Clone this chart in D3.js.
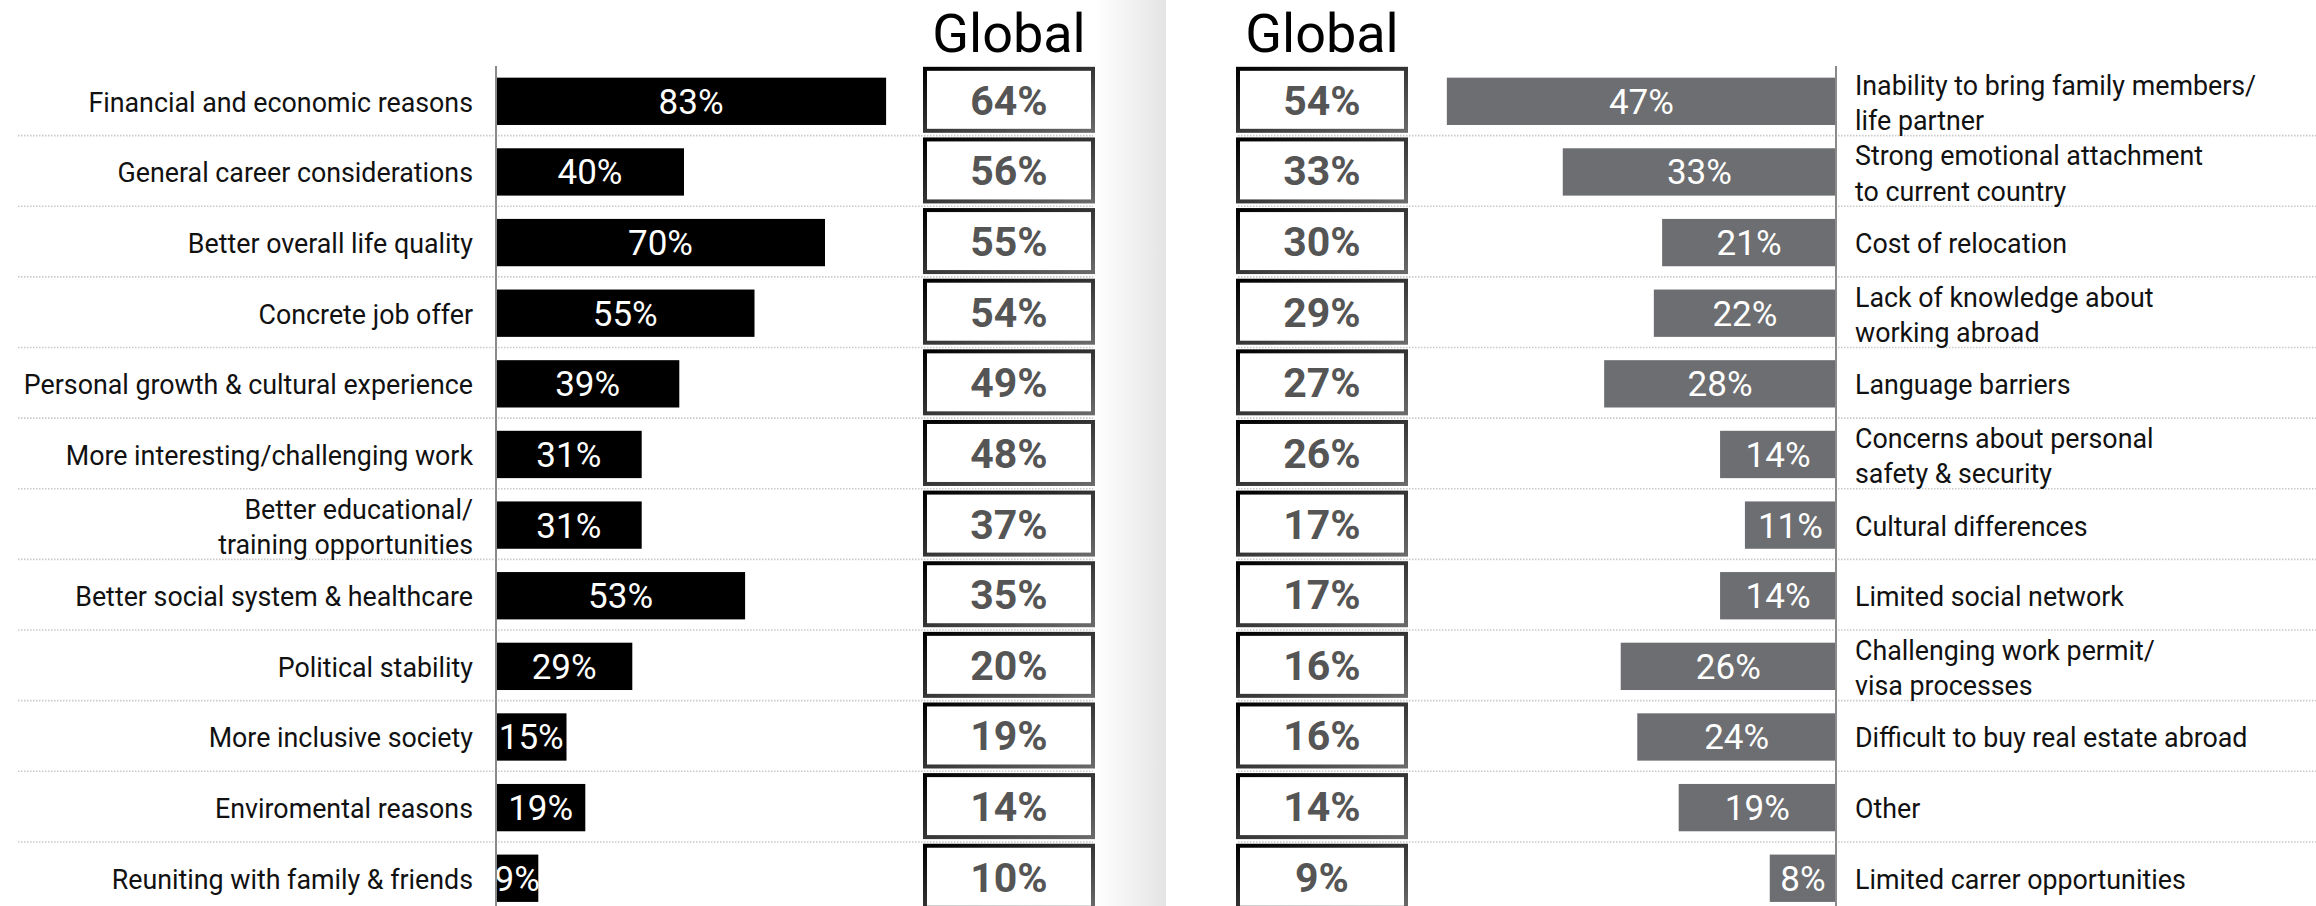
<!DOCTYPE html>
<html>
<head>
<meta charset="utf-8">
<script src="https://cdn.jsdelivr.net/npm/d3@7"></script>
<style>
  html, body { margin: 0; padding: 0; background: #fff; }
  svg { display: block; font-family: Roboto, "Noto Sans", sans-serif; }
</style>
</head>
<body>
<svg width="2316" height="906"></svg>
<script>
// left panel: reasons to move abroad
const leftLabels = [
  "Financial and economic reasons",
  "General career considerations",
  "Better overall life quality",
  "Concrete job offer",
  "Personal growth & cultural experience",
  "More interesting/challenging work",
  "Better educational/\ntraining opportunities",
  "Better social system & healthcare",
  "Political stability",
  "More inclusive society",
  "Enviromental reasons",
  "Reuniting with family & friends"
];
const leftValues = [83, 40, 70, 55, 39, 31, 31, 53, 29, 15, 19, 9];
const leftGlobal = [64, 56, 55, 54, 49, 48, 37, 35, 20, 19, 14, 10];

// right panel: reasons not to move
const rightLabels = [
  "Inability to bring family members/\nlife partner",
  "Strong emotional attachment\nto current country",
  "Cost of relocation",
  "Lack of knowledge about\nworking abroad",
  "Language barriers",
  "Concerns about personal\nsafety & security",
  "Cultural differences",
  "Limited social network",
  "Challenging work permit/\nvisa processes",
  "Difficult to buy real estate abroad",
  "Other",
  "Limited carrer opportunities"
];
const rightValues = [47, 33, 21, 22, 28, 14, 11, 14, 26, 24, 19, 8];
const rightGlobal = [54, 33, 30, 29, 27, 26, 17, 17, 16, 16, 14, 9];

const headerText = "Global";

const svg = d3.select("svg");
const width = +svg.attr("width");
const height = +svg.attr("height");

const defs = svg.append("defs");
const shade = defs.append("linearGradient").attr("id", "shade")
  .attr("x1", "0%").attr("x2", "100%").attr("y1", "0%").attr("y2", "0%");
shade.append("stop").attr("offset", "0%").attr("stop-color", "#fff");
shade.append("stop").attr("offset", "100%").attr("stop-color", "#e4e4e4");
const boxStroke = defs.append("linearGradient").attr("id", "boxStroke")
  .attr("x1", "0%").attr("x2", "100%").attr("y1", "0%").attr("y2", "100%");
boxStroke.append("stop").attr("offset", "0%").attr("stop-color", "#000");
boxStroke.append("stop").attr("offset", "100%").attr("stop-color", "#6a6a6a");

// page fold shadow between the two halves
svg.append("rect").attr("x", 1095).attr("y", 0).attr("width", 71).attr("height", height)
  .attr("fill", "url(#shade)");

const y = d3.scaleBand()
  .domain(d3.range(leftLabels.length))
  .range([66, 66 + 12 * 70.63])
  .paddingInner(0.33)
  .paddingOuter(0.165);
const mid = (i) => y(i) + y.bandwidth() / 2;
const step = y.step();

const xL = d3.scaleLinear().domain([0, 100]).range([496, 966]);
const xR = d3.scaleLinear().domain([0, 100]).range([1836, 1008]);

const boxW = 168, boxH = 62;

function drawPanel(opt) {
  const g = svg.append("g");
  const n = opt.labels.length;

  // dotted separators
  g.selectAll("line.sep")
    .data(d3.range(n - 1))
    .enter().append("line")
    .attr("x1", opt.sepX[0]).attr("x2", opt.sepX[1])
    .attr("y1", (d) => mid(d) + step / 2 - 1)
    .attr("y2", (d) => mid(d) + step / 2 - 1)
    .attr("stroke", "#c9c9c9").attr("stroke-width", 1.6)
    .attr("stroke-dasharray", "1.5,1.5");

  // bars
  g.selectAll("rect.bar")
    .data(opt.values)
    .enter().append("rect")
    .attr("x", (d) => Math.min(opt.x(0), opt.x(d)))
    .attr("width", (d) => Math.abs(opt.x(d) - opt.x(0)))
    .attr("y", (d, i) => y(i))
    .attr("height", y.bandwidth())
    .attr("fill", opt.color);

  g.selectAll("text.val")
    .data(opt.values)
    .enter().append("text")
    .attr("x", (d) => (opt.x(0) + opt.x(d)) / 2)
    .attr("y", (d, i) => mid(i) + 12.5)
    .attr("text-anchor", "middle")
    .attr("fill", "#fff")
    .style("font-size", "35px")
    .text((d) => d + "%");

  // axis line
  g.append("line")
    .attr("x1", opt.x(0)).attr("x2", opt.x(0))
    .attr("y1", 66).attr("y2", height)
    .attr("stroke", "#8a8a8a").attr("stroke-width", 2);

  // category labels
  const lab = g.selectAll("text.lab")
    .data(opt.labels)
    .enter().append("text")
    .attr("x", opt.labelX)
    .attr("text-anchor", opt.anchor)
    .attr("fill", "#111")
    .style("font-size", "26.8px");
  lab.each(function (d, i) {
    const lines = d.split("\n");
    const t = d3.select(this);
    lines.forEach((s, k) => {
      const off = lines.length === 1 ? 0 : (k === 0 ? -17 : 18.5);
      t.append("tspan")
        .attr("x", opt.labelX)
        .attr("y", mid(i) + 10.5 + off)
        .text(s);
    });
  });

  // global boxes
  g.selectAll("rect.box")
    .data(opt.global)
    .enter().append("rect")
    .attr("x", opt.boxX - boxW / 2)
    .attr("y", (d, i) => mid(i) - 1.5 - boxH / 2)
    .attr("width", boxW).attr("height", boxH)
    .attr("fill", "#fff")
    .attr("stroke", "url(#boxStroke)").attr("stroke-width", 4);

  g.selectAll("text.glob")
    .data(opt.global)
    .enter().append("text")
    .attr("x", opt.boxX)
    .attr("y", (d, i) => mid(i) + 13.5)
    .attr("text-anchor", "middle")
    .attr("fill", "#555")
    .style("font-size", "41px")
    .style("font-weight", "bold")
    .text((d) => d + "%");

  g.append("text")
    .attr("x", opt.boxX).attr("y", 52)
    .attr("text-anchor", "middle")
    .attr("fill", "#000")
    .style("font-size", "54px")
    .text(headerText);
}

drawPanel({
  labels: leftLabels, values: leftValues, global: leftGlobal,
  x: xL, color: "#000", labelX: 473, anchor: "end",
  boxX: 1009, sepX: [18, 1093]
});

drawPanel({
  labels: rightLabels, values: rightValues, global: rightGlobal,
  x: xR, color: "#6d6e71", labelX: 1855, anchor: "start",
  boxX: 1322, sepX: [1238, 2316]
});
</script>
</body>
</html>
